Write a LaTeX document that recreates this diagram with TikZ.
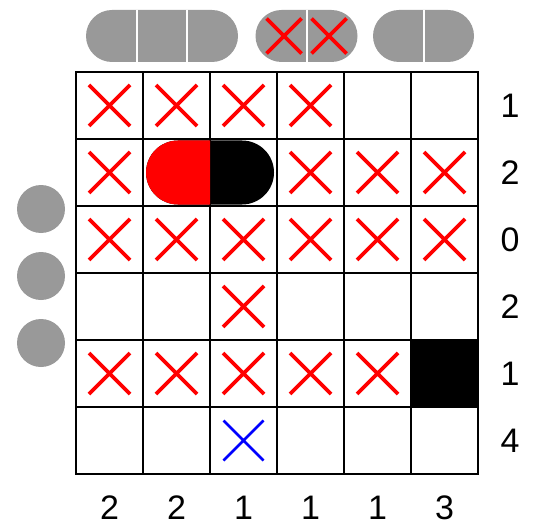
\documentclass[tikz,border=0pt]{standalone}
\usepackage{fontspec}
\setmainfont{Liberation Sans}
\usetikzlibrary{shapes.misc}
\definecolor{shipgray}{RGB}{153,153,153}
\tikzset{
  cellbox/.style = {draw, line width=2.2pt, minimum size=67pt, inner sep=0pt, outer sep=0pt},
  miss/.style    = {draw=red, cross out, line width=3.8pt, minimum size=41pt, inner sep=0pt, outer sep=0pt},
  probe/.style   = {draw=blue, cross out, line width=2.5pt, minimum size=40pt, inner sep=0pt, outer sep=0pt},
  fleet/.style   = {rounded rectangle, fill=shipgray, minimum height=52pt, inner sep=0pt},
  hull/.style    = {circle, fill=shipgray, minimum size=48pt, inner sep=0pt},
  sub/.style     = {rounded rectangle, minimum width=128pt, minimum height=64pt, inner sep=0pt},
  divider/.style = {draw=white, line width=2pt},
  clue/.style    = {inner sep=0pt, font=\fontsize{34}{40}\selectfont},
}
\begin{document}
\begin{tikzpicture}[x=1pt,y=-1pt]
\useasboundingbox (0,0) rectangle (534,529);
% grid
\foreach \r in {1,...,6}
  \foreach \c in {1,...,6}
    \node[cellbox] (c-\r-\c) at ({76+67*(\c-0.5)},{72+67*(\r-0.5)}) {};
\fill (c-5-6.north west) rectangle (c-5-6.south east);
% ship in row 2
\node[sub, fill=black] (s-black) at (c-2-2.east) {};
\begin{scope}
  \clip (c-2-2.north west) rectangle (c-2-2.south east);
  \node[sub, fill=red] (s-red) at (c-2-2.east) {};
\end{scope}
% shots
\foreach \r/\cols in {1/{1,2,3,4}, 2/{1,4,5,6}, 3/{1,2,3,4,5,6}, 4/{3}, 5/{1,2,3,4,5}}
  \foreach \c in \cols
    \node[miss] (x-\r-\c) at (c-\r-\c) {};
\node[probe] (p-6-3) at (c-6-3) {};
% clues
\foreach \r/\n in {1/1, 2/2, 3/0, 4/2, 5/1, 6/4}
  \node[clue] (r-\r) at ([xshift=65.5pt]c-\r-6) {\n};
\foreach \c/\n in {1/2, 2/2, 3/1, 4/1, 5/1, 6/3}
  \node[clue] (k-\c) at ([yshift=-67.5pt]c-6-\c) {\n};
% fleet
\node[fleet, minimum width=152pt] (f1) at (162,36) {};
\node[fleet, minimum width=102pt] (f2) at (306.5,36) {};
\node[fleet, minimum width=101pt] (f3) at (423.5,36) {};
\draw[divider] ([xshift=-25.3pt]f1.north) -- ([xshift=-25.3pt]f1.south);
\draw[divider] ([xshift=25.3pt]f1.north) -- ([xshift=25.3pt]f1.south);
\draw[divider] (f2.north) -- (f2.south);
\draw[divider] (f3.north) -- (f3.south);
\node[miss, minimum size=35pt] (h1) at ([xshift=-22.5pt]f2.center) {};
\node[miss, minimum size=35pt] (h2) at ([xshift=22.5pt]f2.center) {};
\foreach \i/\y in {1/209, 2/276, 3/343}
  \node[hull] (u\i) at (41,\y) {};
\end{tikzpicture}
\end{document}
